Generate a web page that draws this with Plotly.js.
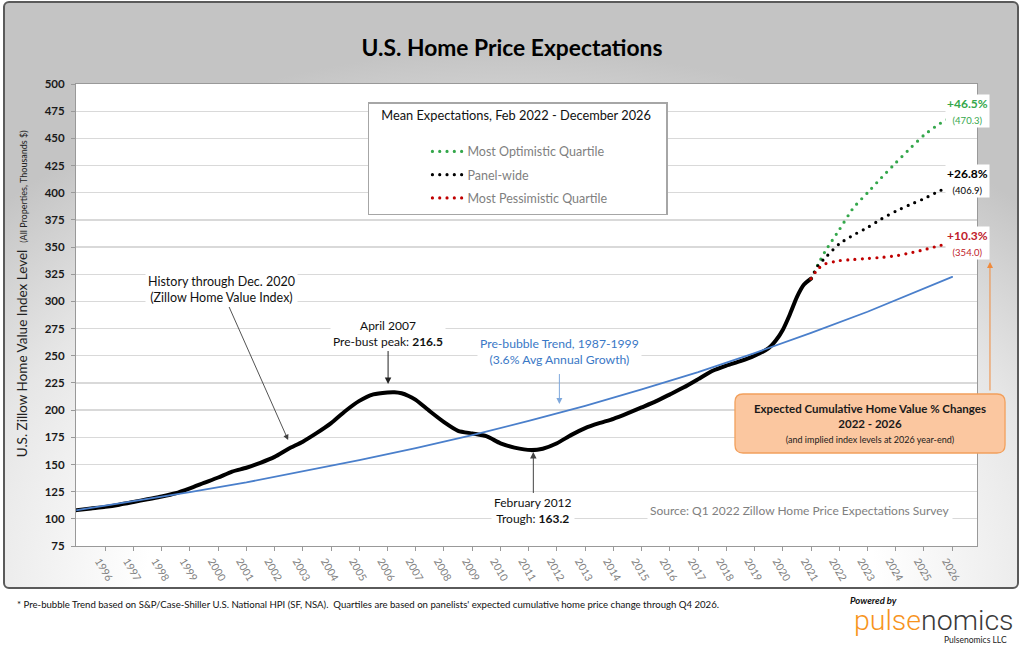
<!DOCTYPE html>
<html><head><meta charset="utf-8">
<script src="https://cdn.plot.ly/plotly-3.0.1.min.js"></script>
<style>
html,body{margin:0;padding:0;background:#fff;}
#frame{position:absolute;left:3px;top:1px;width:1012px;height:584px;border:2px solid #5a5a5a;border-radius:6px;
background:radial-gradient(ellipse 72% 92% at 50% 100%, #ffffff 50%, #e6e6e6 76%, #c4c4c4 100%);}
#chart{position:absolute;left:0;top:0;width:1024px;height:645px;}
.js-line{stroke-linecap:round;}
</style></head><body>
<div id="frame"></div><div id="chart"></div>
<script>
// ---- data ----
const histDates = ['1996-01-01','1996-07-01','1997-01-01','1997-07-01','1998-01-01','1998-07-01','1999-01-01','1999-07-01',
 '2000-01-01','2000-07-01','2001-01-01','2001-07-01','2002-01-01','2002-07-01','2003-01-01','2003-07-01','2004-01-01','2004-07-01',
 '2005-01-01','2005-07-01','2006-01-01','2006-07-01','2007-01-01','2007-04-01','2007-07-01','2007-10-01','2008-01-01','2008-07-01',
 '2009-01-01','2009-07-01','2010-01-01','2010-07-01','2011-01-01','2011-07-01','2012-02-01','2012-07-01','2013-01-01','2013-07-01',
 '2014-01-01','2014-07-01','2015-01-01','2015-07-01','2016-01-01','2016-07-01','2017-01-01','2017-07-01','2018-01-01','2018-07-01',
 '2019-01-01','2019-07-01','2020-01-01','2020-07-01','2020-10-01','2021-01-01','2021-04-01','2021-07-01','2021-10-01','2021-12-31'];
const histValues = [108,109.5,111,113,115.5,118,120.5,123.5,
 128,133,138,143.5,147,151.5,157,164.5,171,179,
 188,199,208.5,214.5,216.3,216.5,215.5,213,209.5,199,
 189,181,178.5,176,169.5,165.5,163.2,164.5,169.5,177,
 183.5,188,192,197,202.5,208,214.5,221,228.5,236,
 241,245,250,257,264,274,288,304,315.5,320.9];

const trendDates = ['1996-01-01','1998-01-01','2000-01-01','2002-01-01','2004-01-01','2006-01-01','2008-01-01','2010-01-01',
 '2012-01-01','2014-01-01','2016-01-01','2018-01-01','2020-01-01','2022-01-01','2024-01-01','2026-01-01','2026-12-31'];
const trendValues = [108,116,124.5,133.5,143.5,154,165,177,190,204,219,235,252.5,271,290.5,312,322.5];

const forecastDates = ['2021-12-31','2022-04-01','2022-07-01','2023-01-01','2023-07-01','2024-01-01','2024-07-01',
 '2025-01-01','2025-07-01','2026-01-01','2026-07-01','2026-12-31'];
const optimisticValues = [320.9,334,346,366,386,400,414,427.5,440.5,453,462.5,470.3];
const panelValues      = [320.9,333,340,353,361,368,376,383,389,394.5,401,406.9];
const pessimisticValues= [320.9,330,334.5,337.5,338.5,339.5,340.5,342,344.5,347.5,351,354.0];

const seriesNames = ['Most Optimistic Quartile','Panel-wide','Most Pessimistic Quartile'];
const endChanges = ['+46.5%','+26.8%','+10.3%'];
const endLevels = ['(470.3)','(406.9)','(354.0)'];

const tickLabels = ['1996','1997','1998','1999','2000','2001','2002','2003','2004','2005','2006','2007','2008','2009','2010',
 '2011','2012','2013','2014','2015','2016','2017','2018','2019','2020','2021','2022','2023','2024','2025','2026'];

// ---- build ----
const FONT = 'Lato, "Open Sans", sans-serif';
const GREEN = '#34a74b', BLACK = '#000000', RED = '#c00000';
const tickDates = tickLabels.map(y => y + '-12-31');

const traces = [
 {x: histDates, y: histValues, type:'scatter', mode:'lines', name:'History', showlegend:false,
  line:{color:'#000', width:4, shape:'spline', smoothing:0.6}, hoverinfo:'skip'},
 {x: trendDates, y: trendValues, type:'scatter', mode:'lines', name:'Pre-bubble Trend', showlegend:false,
  line:{color:'#4a7fcb', width:1.8}, hoverinfo:'skip'},
 {x: forecastDates, y: optimisticValues, type:'scatter', mode:'lines', name:seriesNames[0], legendgroup:'g1',
  line:{color:GREEN, width:3.2, dash:'0px,7.3px', shape:'spline', smoothing:0.6}},
 {x: forecastDates, y: panelValues, type:'scatter', mode:'lines', name:seriesNames[1], legendgroup:'g2',
  line:{color:BLACK, width:3.2, dash:'0px,7.3px', shape:'spline', smoothing:0.6}},
 {x: forecastDates, y: pessimisticValues, type:'scatter', mode:'lines', name:seriesNames[2], legendgroup:'g3',
  line:{color:RED, width:3.2, dash:'0px,7.3px', shape:'spline', smoothing:0.6}}
];

// callout rounded box in paper coords
const bx0=0.7314, bx1=1.0311, by0=0.2013, by1=0.329, rx=0.0089, ry=0.0173;
const boxPath = `M${bx0+rx},${by0} L${bx1-rx},${by0} Q${bx1},${by0} ${bx1},${by0+ry} L${bx1},${by1-ry} Q${bx1},${by1} ${bx1-rx},${by1} `+
 `L${bx0+rx},${by1} Q${bx0},${by1} ${bx0},${by1-ry} L${bx0},${by0+ry} Q${bx0},${by0} ${bx0+rx},${by0} Z`;

const endColors = [GREEN, '#000', '#c0202a'];
const endY = [0.9416, 0.790, 0.656];

function P(o){ return Object.assign({xref:'paper', yref:'paper', xanchor:'center', yanchor:'middle', showarrow:false}, o); }

const annotations = [
 P({x:-0.0599, y:0.545, textangle:-90,
  text:'U.S. Zillow Home Value Index Level&nbsp;&nbsp;<span style="font-size:9px">(All Properties, Thousands $)</span>',
  font:{family:FONT, size:13.5, color:'#222'}}),
 {x:'2003-06-25', y:172.5, text:'History through Dec. 2020<br>(Zillow Home Value Index)', showarrow:true, ax:-67, ay:-151,
  arrowhead:2, arrowsize:1.2, arrowwidth:0.9, arrowcolor:'#404040', bgcolor:'#fff', borderpad:2,
  font:{family:FONT, size:12.5, color:'#111'}},
 {x:'2007-01-08', y:224, text:'April 2007<br>Pre-bust peak: <b>216.5</b>', showarrow:true, ax:0, ay:-51,
  arrowhead:2, arrowsize:1.3, arrowwidth:1, arrowcolor:'#222', bgcolor:'#fff', borderpad:2,
  font:{family:FONT, size:12, color:'#111'}},
 {x:'2012-03-01', y:161.5, text:'February 2012<br>Trough: <b>163.2</b>', showarrow:true, ax:0, ay:59,
  arrowhead:2, arrowsize:1.3, arrowwidth:1, arrowcolor:'#444', bgcolor:'#fff', borderpad:2,
  font:{family:FONT, size:12, color:'#111'}},
 {x:'2013-02-01', y:205.6, text:'Pre-bubble Trend, 1987-1999<br>(3.6% Avg Annual Growth)', showarrow:true, ax:0, ay:-53,
  arrowhead:2, arrowsize:1.2, arrowwidth:1, arrowcolor:'#7fa8dc', startstandoff:5, bgcolor:'#fff', borderpad:2,
  font:{family:FONT, size:12.2, color:'#3a78c6'}},
 P({x:0.803, y:0.0758, bgcolor:'#fff', borderpad:2,
  text:'Source: Q1 2022 Zillow Home Price Expectations Survey', font:{family:FONT, size:12, color:'#808080'}}),
 P({x:0.8812, y:0.2662,
  text:'<b>Expected Cumulative Home Value % Changes</b><br><b>2022 - 2026</b><br><span style="font-size:9px">(and implied index levels at 2026 year-end)</span>',
  font:{family:FONT, size:11.5, color:'#1a1a1a'}}),
 P({x:1.0144, y:0.6147, text:'', showarrow:true, axref:'pixel', ayref:'pixel', ax:0, ay:130,
  arrowhead:2, arrowsize:1.2, arrowwidth:1, arrowcolor:'#f08a3c'}),
 P({x:-0.0677, y:-0.1277, xanchor:'left',
  text:"* Pre-bubble Trend based on S&P/Case-Shiller U.S. National HPI (SF, NSA).&nbsp; Quartiles are based on panelists' expected cumulative home price change through Q4 2026.",
  font:{family:FONT, size:9.6, color:'#111'}}),
 P({x:0.8568, y:-0.118, xanchor:'left',
  text:'<b><i>Powered by</i></b>', font:{family:FONT, size:9.5, color:'#111'}}),
 P({x:0.9525, y:-0.162,
  text:'<span style="color:#f7941d">pulse</span><span style="color:#3a3a3a">nomics</span>',
  font:{family:'Roboto, Lato, sans-serif', size:28.5, weight:300, color:'#3a3a3a'}}),
 P({x:0.9978, y:-0.2045,
  text:'Pulsenomics LLC', font:{family:FONT, size:8.5, color:'#222'}})
];
for (let i=0;i<3;i++){
 annotations.push(P({x:0.99, y:endY[i], bgcolor:'#fff', borderpad:1,
  text:'<b>'+endChanges[i]+'</b><br><span style="font-size:9.5px">'+endLevels[i]+'</span>',
  font:{family:FONT, size:12, color:endColors[i]}}));
}

const layout = {
 width:1024, height:645, autosize:false,
 margin:{l:76, r:47, t:84, b:99},
 paper_bgcolor:'rgba(0,0,0,0)', plot_bgcolor:'#fff',
 font:{family:FONT},
 title:{text:'<b>U.S. Home Price Expectations</b>', xref:'container', x:0.5, y:0.9256, yanchor:'middle',
  font:{family:FONT, size:22.8, color:'#000'}},
 xaxis:{type:'date', range:['1995-12-20','2027-11-17'], tickvals:tickDates, ticktext:tickLabels, tickangle:60,
  tickfont:{family:FONT, size:10.5, color:'#808080'}, ticks:'outside', ticklen:4, tickcolor:'#999',
  showgrid:false, showline:true, linecolor:'#999', linewidth:1, mirror:true, zeroline:false, ticklabelshift:-6},
 yaxis:{range:[75,500], tick0:75, dtick:25, tickfont:{family:FONT, size:11.5, color:'#1a1a1a', weight:700},
  ticks:'outside', ticklen:4, tickcolor:'#999', gridcolor:'#d9d9d9', gridwidth:1.3,
  showline:true, linecolor:'#999', linewidth:1, mirror:true, zeroline:false, ticklabelstandoff:4},
 showlegend:true,
 legend:{x:0.324, y:0.961, xanchor:'left', yanchor:'top', bgcolor:'#fff', bordercolor:'#a6a6a6', borderwidth:1.5,
  font:{family:FONT, size:12.5, color:'#7f7f7f'}, indentation:58, tracegroupgap:4,
  title:{text:'&nbsp;&nbsp;&nbsp;Mean Expectations, Feb 2022 - December 2026&nbsp;&nbsp;&nbsp;&nbsp;<br><span style="font-size:6px">&nbsp;</span>', side:'top', font:{family:FONT, size:12.8, color:'#111'}}},
 shapes:[
  {type:'path', xref:'paper', yref:'paper', path:boxPath, fillcolor:'#fbc7a0', line:{color:'#f2a05c', width:1.3}, layer:'above'}
 ],
 annotations: annotations
};

Plotly.newPlot('chart', traces, layout, {displayModeBar:false, staticPlot:true});
</script></body></html>
